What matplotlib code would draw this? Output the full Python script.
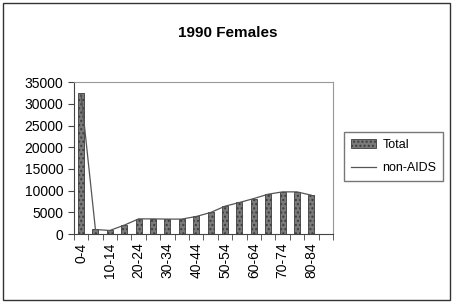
# 1990 Females - Total vs non-AIDS by age group

import numpy as np
import matplotlib
matplotlib.use('Agg')
import matplotlib.pyplot as plt

age_groups = ['0-4', '5-9', '10-14', '15-19', '20-24', '25-29', '30-34', '35-39',
              '40-44', '45-49', '50-54', '55-59', '60-64', '65-69', '70-74', '75-79',
              '80-84', '85+']
total = [32400, 1070, 840, 2070, 3520, 3520, 3450, 3450, 4060, 4980,
         6430, 7280, 8190, 9190, 9730, 9730, 8960, 0]
non_aids = [32300, 1050, 830, 2050, 3500, 3500, 3450, 3450, 4050, 4970,
            6420, 7270, 8180, 9180, 9720, 9720, 8950, np.nan]

plt.rcParams['font.family'] = ['Liberation Sans', 'DejaVu Sans']

fig = plt.figure(figsize=(4.53, 3.04), dpi=100)
fig.patches.append(plt.Rectangle((0.006, 0.012), 0.988, 0.978, transform=fig.transFigure,
                                 fill=False, edgecolor='#333333', linewidth=1.0))
ax = fig.add_axes((0.163, 0.230, 0.572, 0.500))

x = np.arange(len(age_groups))
bars = ax.bar(x, total, width=0.42, color='#7a7a7a', edgecolor='#3c3c3c', linewidth=0.6,
              hatch='....', label='Total')
line, = ax.plot(x, non_aids, color='#555555', linewidth=0.9, label='non-AIDS')

ax.set_xlim(-0.5, len(age_groups) - 0.5)
ax.set_ylim(0, 35000)
ax.set_yticks(range(0, 35001, 5000))
ax.set_xticks(x[::2])
ax.set_xticklabels(age_groups[::2], rotation=90, fontsize=10)
ax.set_xticks(np.arange(-0.5, len(age_groups), 1), minor=True)
ax.tick_params(axis='x', which='major', length=0, pad=6)
ax.tick_params(axis='x', which='minor', length=4, direction='out', color='#444444')
ax.tick_params(axis='y', labelsize=10, length=4, direction='out', color='#444444')

for side in ('top', 'right'):
    ax.spines[side].set_color('#999999')
    ax.spines[side].set_linewidth(0.8)
for side in ('left', 'bottom'):
    ax.spines[side].set_color('#444444')

fig.text(0.503, 0.893, '1990 Females', ha='center', va='center', fontsize=11, fontweight='bold')

fig.legend([bars, line], ['Total', 'non-AIDS'], loc='upper left',
           bbox_to_anchor=(0.760, 0.565), fontsize=9, frameon=True,
           fancybox=False, edgecolor='#555555', handlelength=2.0, handletextpad=0.5,
           borderpad=0.55, borderaxespad=0, labelspacing=0.9)

plt.savefig('out.png', dpi=100)
plt.close()
